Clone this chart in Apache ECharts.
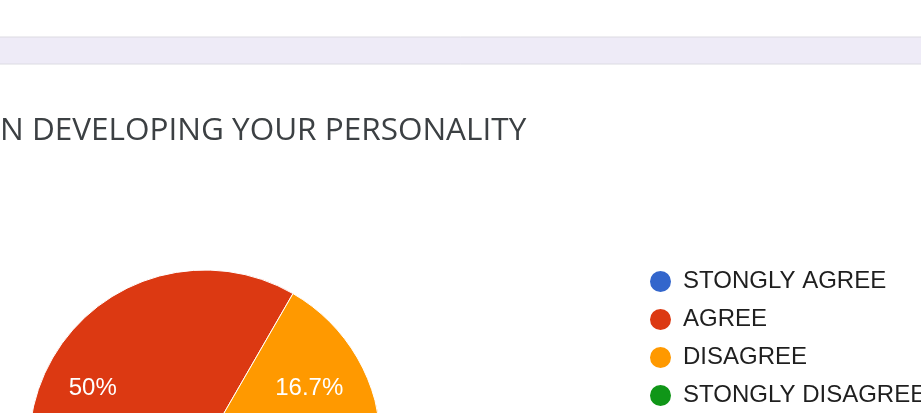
<!DOCTYPE html>
<html lang="en">

<head>
    <meta charset="UTF-8">
    <title>Personality survey</title>
    <style>
        html, body { margin: 0; padding: 0; background: #fff; }
        #main { width: 921px; height: 413px; }
    </style>
</head>

<body>
    <div id="main"></div>
    <script src="https://cdn.jsdelivr.net/npm/echarts@6/dist/echarts.min.js"></script>
    <script>
    var titleText = 'N DEVELOPING YOUR PERSONALITY';
    var answers = ['STONGLY AGREE', 'AGREE', 'DISAGREE', 'STONGLY DISAGREE'];
    var counts = [2, 3, 1, 0];
    var colors = ['#3366cc', '#dc3912', '#ff9900', '#109618'];

    var pieData = answers.map(function(name, i) {
        return { name: name, value: counts[i] };
    });

    var myChart = echarts.init(document.getElementById('main'));

    var option = {
        animation: false,
        color: colors,
        title: {
            text: titleText,
            left: 0,
            top: 115,
            padding: 0,
            textStyle: {
                fontFamily: 'Open Sans',
                fontWeight: 'normal',
                fontSize: 31.5,
                color: '#3c4043'
            }
        },
        graphic: [{
            type: 'rect',
            shape: { x: -1, y: 37, width: 923, height: 27 },
            style: { fill: '#eeebf7', stroke: '#dcdbe2', lineWidth: 1 },
            silent: true
        }],
        legend: {
            orient: 'vertical',
            left: 648,
            top: 269,
            height: 200,
            padding: 0,
            icon: 'circle',
            itemWidth: 23,
            itemHeight: 23,
            itemGap: 13,
            data: answers,
            textStyle: {
                fontFamily: 'Liberation Sans',
                fontSize: 24,
                lineHeight: 23,
                padding: [0, 0, 0, 6],
                color: '#1f1f1f'
            }
        },
        series: [{
                name: 'answers',
                type: 'pie',
                center: [205, 446],
                radius: 176,
                startAngle: 0,
                clockwise: true,
                data: pieData,
                label: { show: false },
                labelLine: { show: false },
                itemStyle: { borderColor: '#fff', borderWidth: 1 },
                emphasis: { disabled: true }
            },
            {
                // label ring only
                name: 'labels',
                type: 'pie',
                center: [205, 446],
                radius: [68, 176],
                startAngle: 0,
                clockwise: true,
                silent: true,
                data: pieData,
                itemStyle: { color: 'rgba(0,0,0,0)' },
                labelLine: { show: false },
                label: {
                    position: 'inside',
                    offset: [-4, 5],
                    color: '#fff',
                    fontFamily: 'Liberation Sans',
                    fontSize: 24,
                    formatter: function(p) {
                        return (Math.round(p.percent * 10) / 10) + '%';
                    }
                },
                emphasis: { disabled: true }
            }
        ]
    };

    myChart.setOption(option);
    </script>
</body>

</html>
